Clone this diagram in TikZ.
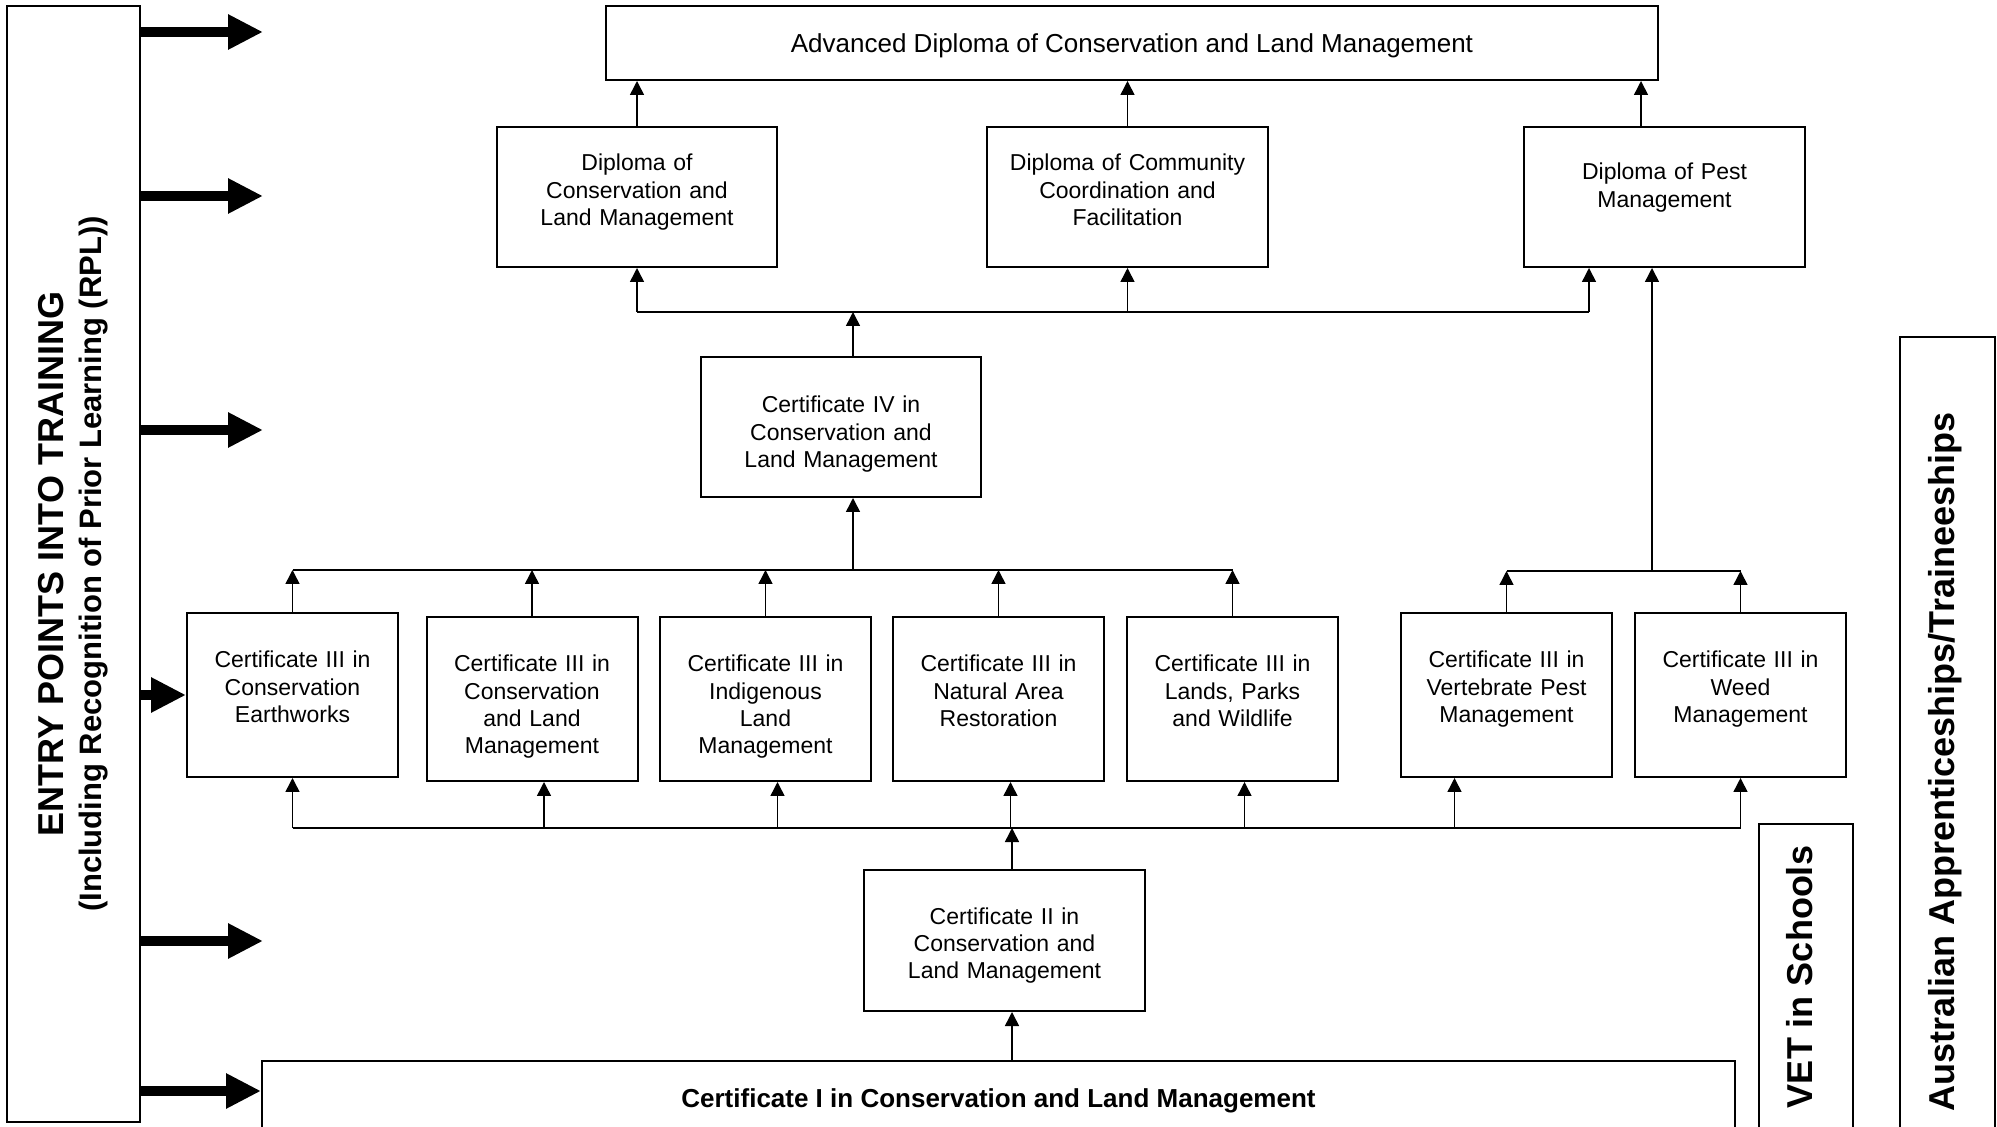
\documentclass[tikz,border=0pt]{standalone}
\usepackage{fontspec}
\setmainfont{Liberation Sans}
\usetikzlibrary{arrows.meta}
\tikzstyle{course} = [rectangle,
minimum width=105.5pt,
minimum height=82pt,
inner sep=2pt,
text width=100pt,
text height=25.5pt,
text depth=52.5pt,
text centered,
draw=black,
line width=1pt,
font=\fontsize{11.5}{13.6}\selectfont]
\tikzstyle{diploma} = [course, minimum width=140pt, minimum height=70pt, text width=134pt, text height=20pt, text depth=46pt]
\tikzstyle{wide} = [rectangle, minimum height=37pt, text height=9.3pt, text depth=0pt, text centered, draw=black, line width=1pt, font=\fontsize{13}{15}\selectfont]
\tikzstyle{side} = [rectangle, rotate=90, align=center, draw=black, line width=1pt, font=\bfseries\fontsize{18}{19}\selectfont]
\tikzstyle{arrow} = [line width=0.75pt,-{Triangle[length=7pt,width=7pt]}]
\tikzstyle{link} = [line width=0.75pt]
\tikzstyle{bigarrow} = [line width=5pt,-{Triangle[length=17.5pt,width=16.5pt]}]
\begin{document}
\begin{tikzpicture}[x=0.5pt,y=-0.5pt]
\useasboundingbox (0,0) rectangle (1997,1127);

\node (adv) [wide, minimum width=526pt] at (1132,43) {Advanced Diploma of Conservation and Land Management};
\node (dcl) [diploma] at (637,197) {Diploma of\\Conservation and\\Land Management};
\node (dccf) [diploma, minimum width=140.5pt] at (1127.5,197) {Diploma of Community\\Coordination and\\Facilitation};
\node (dpm) [diploma, minimum width=140.5pt, text height=24.5pt, text depth=41.5pt] at (1664.5,197) {Diploma of Pest\\Management};
\node (c4) [diploma, text height=26pt, text depth=40pt] at (841,427) {Certificate IV in\\Conservation and\\Land Management};
\node (ca) [course] at (292.5,695) {Certificate III in\\Conservation\\Earthworks};
\node (cb) [course] at (532,699) {Certificate III in\\Conservation\\and Land\\Management};
\node (cc) [course] at (765.5,699) {Certificate III in\\Indigenous\\Land\\Management};
\node (cd) [course] at (998.5,699) {Certificate III in\\Natural Area\\Restoration};
\node (ce) [course] at (1232.5,699) {Certificate III in\\Lands, Parks\\and Wildlife};
\node (cf) [course] at (1506.5,695) {Certificate III in\\Vertebrate Pest\\Management};
\node (cg) [course] at (1740.5,695) {Certificate III in\\Weed\\Management};
\node (c2) [diploma, minimum width=140.5pt, minimum height=70.5pt, text height=25pt, text depth=41.5pt] at (1004.5,940.5) {Certificate II in\\Conservation and\\Land Management};
\node (c1) [wide, minimum width=736.5pt, font=\bfseries\fontsize{13}{15}\selectfont] at (998.5,1098) {Certificate I in Conservation and Land Management};
\node (entry) [side, minimum width=558pt, minimum height=66.5pt] at (73.5,564) {ENTRY POINTS INTO TRAINING\\{\fontsize{15.5}{18}\selectfont (Including Recognition of Prior Learning (RPL))}};
\node (vet) [side, minimum width=153pt, minimum height=47pt, text height=13pt, text depth=6.5pt] at (1806,977) {VET in Schools};
\node (aat) [side, minimum width=425pt, minimum height=47.5pt, text height=13pt, text depth=6.5pt] at (1947.5,762) {Australian Apprenticeships/Traineeships};

\coordinate (bard) at (853,312);
\coordinate (bardr) at (1589,312);
\coordinate (barl) at (853,570);
\coordinate (barr) at (1652,571);
\coordinate (barc) at (1012,828);
\coordinate (e1) at (263,32);
\coordinate (e2) at (263,196);
\coordinate (e3) at (263,430);
\coordinate (e5) at (263,941);
\coordinate (e6) at (263,1091);

\draw [bigarrow] (entry.south |- e1) -- (e1);
\draw [bigarrow] (entry.south |- e2) -- (e2);
\draw [bigarrow] (entry.south |- e3) -- (e3);
\draw [bigarrow] (entry.south |- ca.west) -- (ca.west);
\draw [bigarrow] (entry.south |- e5) -- (e5);
\draw [bigarrow] (entry.south |- e6) -- (c1.west |- e6);

\draw [arrow] (dcl.north) -- (dcl.north |- adv.south);
\draw [arrow] (dccf.north) -- (dccf.north |- adv.south);
\draw [arrow] ([xshift=-11.75pt]dpm.north) -- ([xshift=-11.75pt]dpm.north |- adv.south);

\draw [link] (dcl.south |- bard) -- (bardr);
\draw [arrow] (dcl.south |- bard) -- (dcl.south);
\draw [arrow] (dccf.south |- bard) -- (dccf.south);
\draw [arrow] (bardr) -- (bardr |- dpm.south);
\draw [arrow] (c4.north -| bard) -- (bard);

\draw [link] (ca.north |- barl) -- (ce.north |- barl);
\draw [arrow] (barl) -- (barl |- c4.south);
\draw [arrow] (ca.north) -- (ca.north |- barl);
\draw [arrow] (cb.north) -- (cb.north |- barl);
\draw [arrow] (cc.north) -- (cc.north |- barl);
\draw [arrow] (cd.north) -- (cd.north |- barl);
\draw [arrow] (ce.north) -- (ce.north |- barl);

\draw [link] (cf.north |- barr) -- (cg.north |- barr);
\draw [arrow] (cf.north) -- (cf.north |- barr);
\draw [arrow] (cg.north) -- (cg.north |- barr);
\draw [arrow] (barr) -- (barr |- dpm.south);

\draw [link] (ca.south |- barc) -- (cg.south |- barc);
\draw [arrow] (ca.south |- barc) -- (ca.south);
\draw [arrow] ([xshift=6pt]cb.south |- barc) -- ([xshift=6pt]cb.south);
\draw [arrow] ([xshift=6pt]cc.south |- barc) -- ([xshift=6pt]cc.south);
\draw [arrow] ([xshift=6pt]cd.south |- barc) -- ([xshift=6pt]cd.south);
\draw [arrow] ([xshift=6pt]ce.south |- barc) -- ([xshift=6pt]ce.south);
\draw [arrow] ([xshift=-26pt]cf.south |- barc) -- ([xshift=-26pt]cf.south);
\draw [arrow] (cg.south |- barc) -- (cg.south);
\draw [arrow] (c2.north -| barc) -- (barc);
\draw [arrow] (c1.north -| barc) -- (c2.south -| barc);

\end{tikzpicture}
\end{document}
